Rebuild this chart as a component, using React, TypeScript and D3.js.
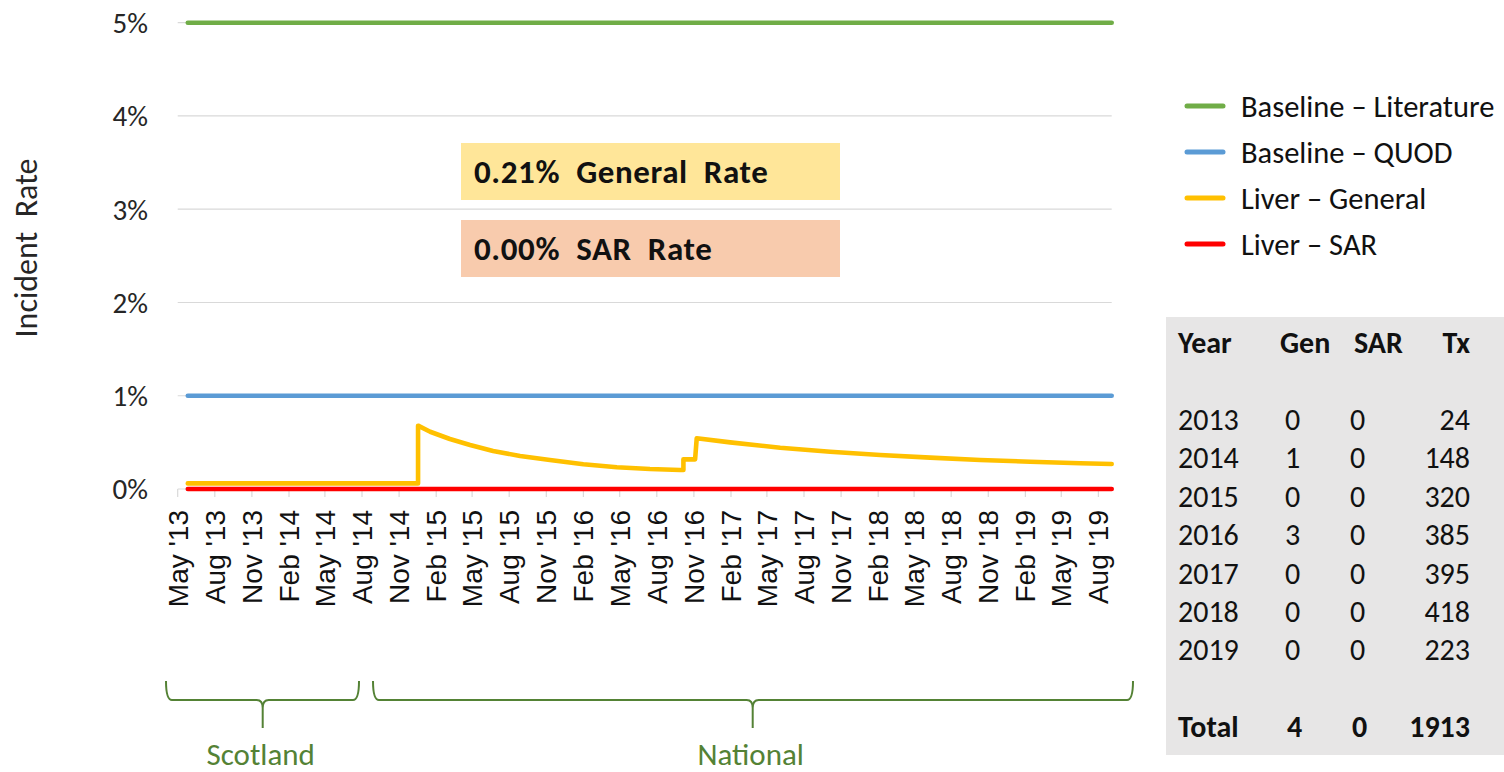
import React, { useEffect, useRef } from 'react';
import * as d3 from 'd3';

// Series (values in %)
const BASELINE_LITERATURE: [string, number][] = [
  ['2013-05-26', 5.0],
  ['2019-09-03', 5.0],
];
const BASELINE_QUOD: [string, number][] = [
  ['2013-05-26', 1.0],
  ['2019-09-03', 1.0],
];
const LIVER_SAR: [string, number][] = [
  ['2013-05-26', 0.0],
  ['2019-09-03', 0.0],
];
const LIVER_GENERAL: [string, number][] = [
  ['2013-05-26', 0.06],
  ['2014-12-18', 0.06],
  ['2014-12-18', 0.679],
  ['2015-01-17', 0.614],
  ['2015-03-07', 0.536],
  ['2015-04-26', 0.472],
  ['2015-06-22', 0.407],
  ['2015-08-28', 0.354],
  ['2015-11-10', 0.311],
  ['2016-02-01', 0.265],
  ['2016-04-24', 0.233],
  ['2016-07-15', 0.214],
  ['2016-09-28', 0.204],
  ['2016-10-06', 0.204],
  ['2016-10-06', 0.318],
  ['2016-11-04', 0.318],
  ['2016-11-08', 0.544],
  ['2017-01-30', 0.5],
  ['2017-06-03', 0.443],
  ['2017-10-05', 0.4],
  ['2018-02-06', 0.365],
  ['2018-06-10', 0.336],
  ['2018-10-12', 0.311],
  ['2019-02-13', 0.293],
  ['2019-06-17', 0.276],
  ['2019-09-03', 0.268],
];

const Y_TICKS = [0, 1, 2, 3, 4, 5];
const X_START = '2013-05-01';
const X_END = '2019-09-03';

const LEGEND = [
  { label: 'Baseline – Literature', color: '#70AD47' },
  { label: 'Baseline – QUOD', color: '#5B9BD5' },
  { label: 'Liver – General', color: '#FFC000' },
  { label: 'Liver – SAR', color: '#FF0000' },
];

const TABLE_YEARS = ['2013', '2014', '2015', '2016', '2017', '2018', '2019'];
const TABLE_GEN = [0, 1, 0, 3, 0, 0, 0];
const TABLE_SAR = [0, 0, 0, 0, 0, 0, 0];
const TABLE_TX = [24, 148, 320, 385, 395, 418, 223];
const TABLE_TOTAL = { gen: 4, sar: 0, tx: 1913 };

const GENERAL_RATE = '0.21%';
const SAR_RATE = '0.00%';

const SANS = 'Calibri, Carlito, Lato, sans-serif';
const ARIAL = 'Arial, "Liberation Sans", sans-serif';

const App: React.FC = () => {
  const svgRef = useRef<SVGSVGElement>(null);

  useEffect(() => {
    if (!svgRef.current) return;
    d3.select(svgRef.current).selectAll('*').remove();

    const svg = d3.select(svgRef.current);
    const parse = d3.timeParse('%Y-%m-%d');

    const x = d3.scaleTime()
      .domain([parse(X_START)!, parse(X_END)!])
      .range([177.7, 1111.7]);
    const y = d3.scaleLinear().domain([0, 5]).range([489, 22.7]);

    // Horizontal gridlines
    svg.selectAll('.grid')
      .data(Y_TICKS.filter(d => d > 0))
      .enter()
      .append('line')
      .attr('x1', x.range()[0])
      .attr('x2', x.range()[1])
      .attr('y1', d => y(d))
      .attr('y2', d => y(d))
      .attr('stroke', '#D9D9D9')
      .attr('stroke-width', 1.2);

    // Y tick labels
    svg.selectAll('.ylab')
      .data(Y_TICKS)
      .enter()
      .append('text')
      .attr('x', 148)
      .attr('y', d => y(d))
      .attr('dy', '0.36em')
      .attr('text-anchor', 'end')
      .attr('font-family', SANS)
      .attr('font-size', 29)
      .attr('fill', '#262626')
      .text(d => `${d}%`);

    // Y axis title
    svg.append('text')
      .attr('transform', 'translate(25,248) rotate(-90)')
      .attr('text-anchor', 'middle')
      .attr('dy', '0.36em')
      .attr('font-family', SANS)
      .attr('font-size', 32)
      .attr('fill', '#262626')
      .style('white-space', 'pre')
      .text('Incident  Rate');

    // X axis: line, ticks every 3 months, rotated labels
    const tickDates = d3.timeMonth.range(parse(X_START)!, x.domain()[1], 3);
    svg.append('line')
      .attr('x1', x.range()[0])
      .attr('x2', x.range()[1])
      .attr('y1', y(0))
      .attr('y2', y(0))
      .attr('stroke', '#D9D9D9')
      .attr('stroke-width', 1.2);
    svg.selectAll('.xtick')
      .data(tickDates)
      .enter()
      .append('line')
      .attr('x1', d => x(d))
      .attr('x2', d => x(d))
      .attr('y1', y(0))
      .attr('y2', y(0) + 8)
      .attr('stroke', '#D9D9D9')
      .attr('stroke-width', 1.2);
    const fmt = d3.timeFormat("%b '%y");
    svg.selectAll('.xlab')
      .data(tickDates)
      .enter()
      .append('text')
      .attr('transform', d => `translate(${x(d)},510) rotate(-90)`)
      .attr('text-anchor', 'end')
      .attr('dy', '0.35em')
      .attr('font-family', ARIAL)
      .attr('font-size', 28)
      .attr('fill', '#111')
      .text(d => fmt(d));

    // Annotation boxes
    const boxes = [
      { text: `${GENERAL_RATE}  General  Rate`, fill: '#FFE699', top: 143 },
      { text: `${SAR_RATE}  SAR  Rate`, fill: '#F8CBAD', top: 220 },
    ];
    boxes.forEach(b => {
      svg.append('rect')
        .attr('x', 461)
        .attr('y', b.top)
        .attr('width', 379)
        .attr('height', 57)
        .attr('fill', b.fill);
      svg.append('text')
        .attr('x', 474)
        .attr('y', b.top + 40)
        .attr('font-family', SANS)
        .attr('font-size', 33)
        .attr('font-weight', 'bold')
        .attr('letter-spacing', 0.6)
        .attr('fill', '#111')
        .style('white-space', 'pre')
        .text(b.text);
    });

    // Series lines
    const line = d3.line<[string, number]>()
      .x(d => x(parse(d[0])!))
      .y(d => y(d[1]))
      .curve(d3.curveLinear);

    const series: { data: [string, number][]; color: string }[] = [
      { data: BASELINE_LITERATURE, color: LEGEND[0].color },
      { data: BASELINE_QUOD, color: LEGEND[1].color },
      { data: LIVER_GENERAL, color: LEGEND[2].color },
      { data: LIVER_SAR, color: LEGEND[3].color },
    ];
    series.forEach(s => {
      svg.append('path')
        .datum(s.data)
        .attr('d', line)
        .attr('fill', 'none')
        .attr('stroke', s.color)
        .attr('stroke-width', 4.6)
        .attr('stroke-linejoin', 'round')
        .attr('stroke-linecap', 'round');
    });

    // Legend
    const legend = svg.append('g');
    LEGEND.forEach((item, i) => {
      const ly = 106 + i * 46;
      legend.append('line')
        .attr('x1', 1187)
        .attr('x2', 1223)
        .attr('y1', ly)
        .attr('y2', ly)
        .attr('stroke', item.color)
        .attr('stroke-width', 5)
        .attr('stroke-linecap', 'round');
      legend.append('text')
        .attr('x', 1241)
        .attr('y', ly)
        .attr('dy', '0.36em')
        .attr('font-family', SANS)
        .attr('font-size', 30.5)
        .attr('fill', '#111')
        .text(item.label);
    });

    // Summary table
    const table = svg.append('g');
    table.append('rect')
      .attr('x', 1166)
      .attr('y', 317)
      .attr('width', 338)
      .attr('height', 438)
      .attr('fill', '#E7E6E6');
    const cell = (tx: number, ty: number, text: string, anchor: string, bold: boolean) =>
      table.append('text')
        .attr('x', tx)
        .attr('y', ty)
        .attr('text-anchor', anchor)
        .attr('font-family', SANS)
        .attr('font-size', 30)
        .attr('font-weight', bold ? 'bold' : 'normal')
        .attr('fill', '#111')
        .text(text);
    cell(1178, 353, 'Year', 'start', true);
    cell(1280, 353, 'Gen', 'start', true);
    cell(1354, 353, 'SAR', 'start', true);
    cell(1470, 353, 'Tx', 'end', true);
    TABLE_YEARS.forEach((yr, i) => {
      const ty = 430 + i * 38.4;
      cell(1178, ty, yr, 'start', false);
      cell(1285, ty, String(TABLE_GEN[i]), 'start', false);
      cell(1350, ty, String(TABLE_SAR[i]), 'start', false);
      cell(1470, ty, String(TABLE_TX[i]), 'end', false);
    });
    cell(1178, 737, 'Total', 'start', true);
    cell(1287, 737, String(TABLE_TOTAL.gen), 'start', true);
    cell(1352, 737, String(TABLE_TOTAL.sar), 'start', true);
    cell(1470, 737, String(TABLE_TOTAL.tx), 'end', true);

    // Region braces under the axis
    const brace = (x1: number, x2: number, xm: number, label: string) => {
      const yTop = 681, yMid = 700, yTip = 728, r = 6;
      const d = `M${x1},${yTop} Q${x1},${yMid} ${x1 + r},${yMid} L${xm - r},${yMid} Q${xm},${yMid} ${xm},${yMid + r + 2} L${xm},${yTip}`
        + ` M${xm},${yMid + r + 2} Q${xm},${yMid} ${xm + r},${yMid} L${x2 - r},${yMid} Q${x2},${yMid} ${x2},${yTop}`;
      svg.append('path')
        .attr('d', d)
        .attr('fill', 'none')
        .attr('stroke', '#548235')
        .attr('stroke-width', 2);
      svg.append('text')
        .attr('x', xm - 2)
        .attr('y', 765)
        .attr('text-anchor', 'middle')
        .attr('font-family', SANS)
        .attr('font-size', 31)
        .attr('fill', '#548235')
        .text(label);
    };
    brace(166, 359, 262.7, 'Scotland');
    brace(373, 1133, 752.7, 'National');
  }, []);

  return (
    <div style={{ position: 'absolute', left: 0, top: 0, width: 1504, height: 772, background: '#fff' }}>
      <svg ref={svgRef} width={1504} height={772} style={{ display: 'block' }}></svg>
    </div>
  );
};

export default App;
